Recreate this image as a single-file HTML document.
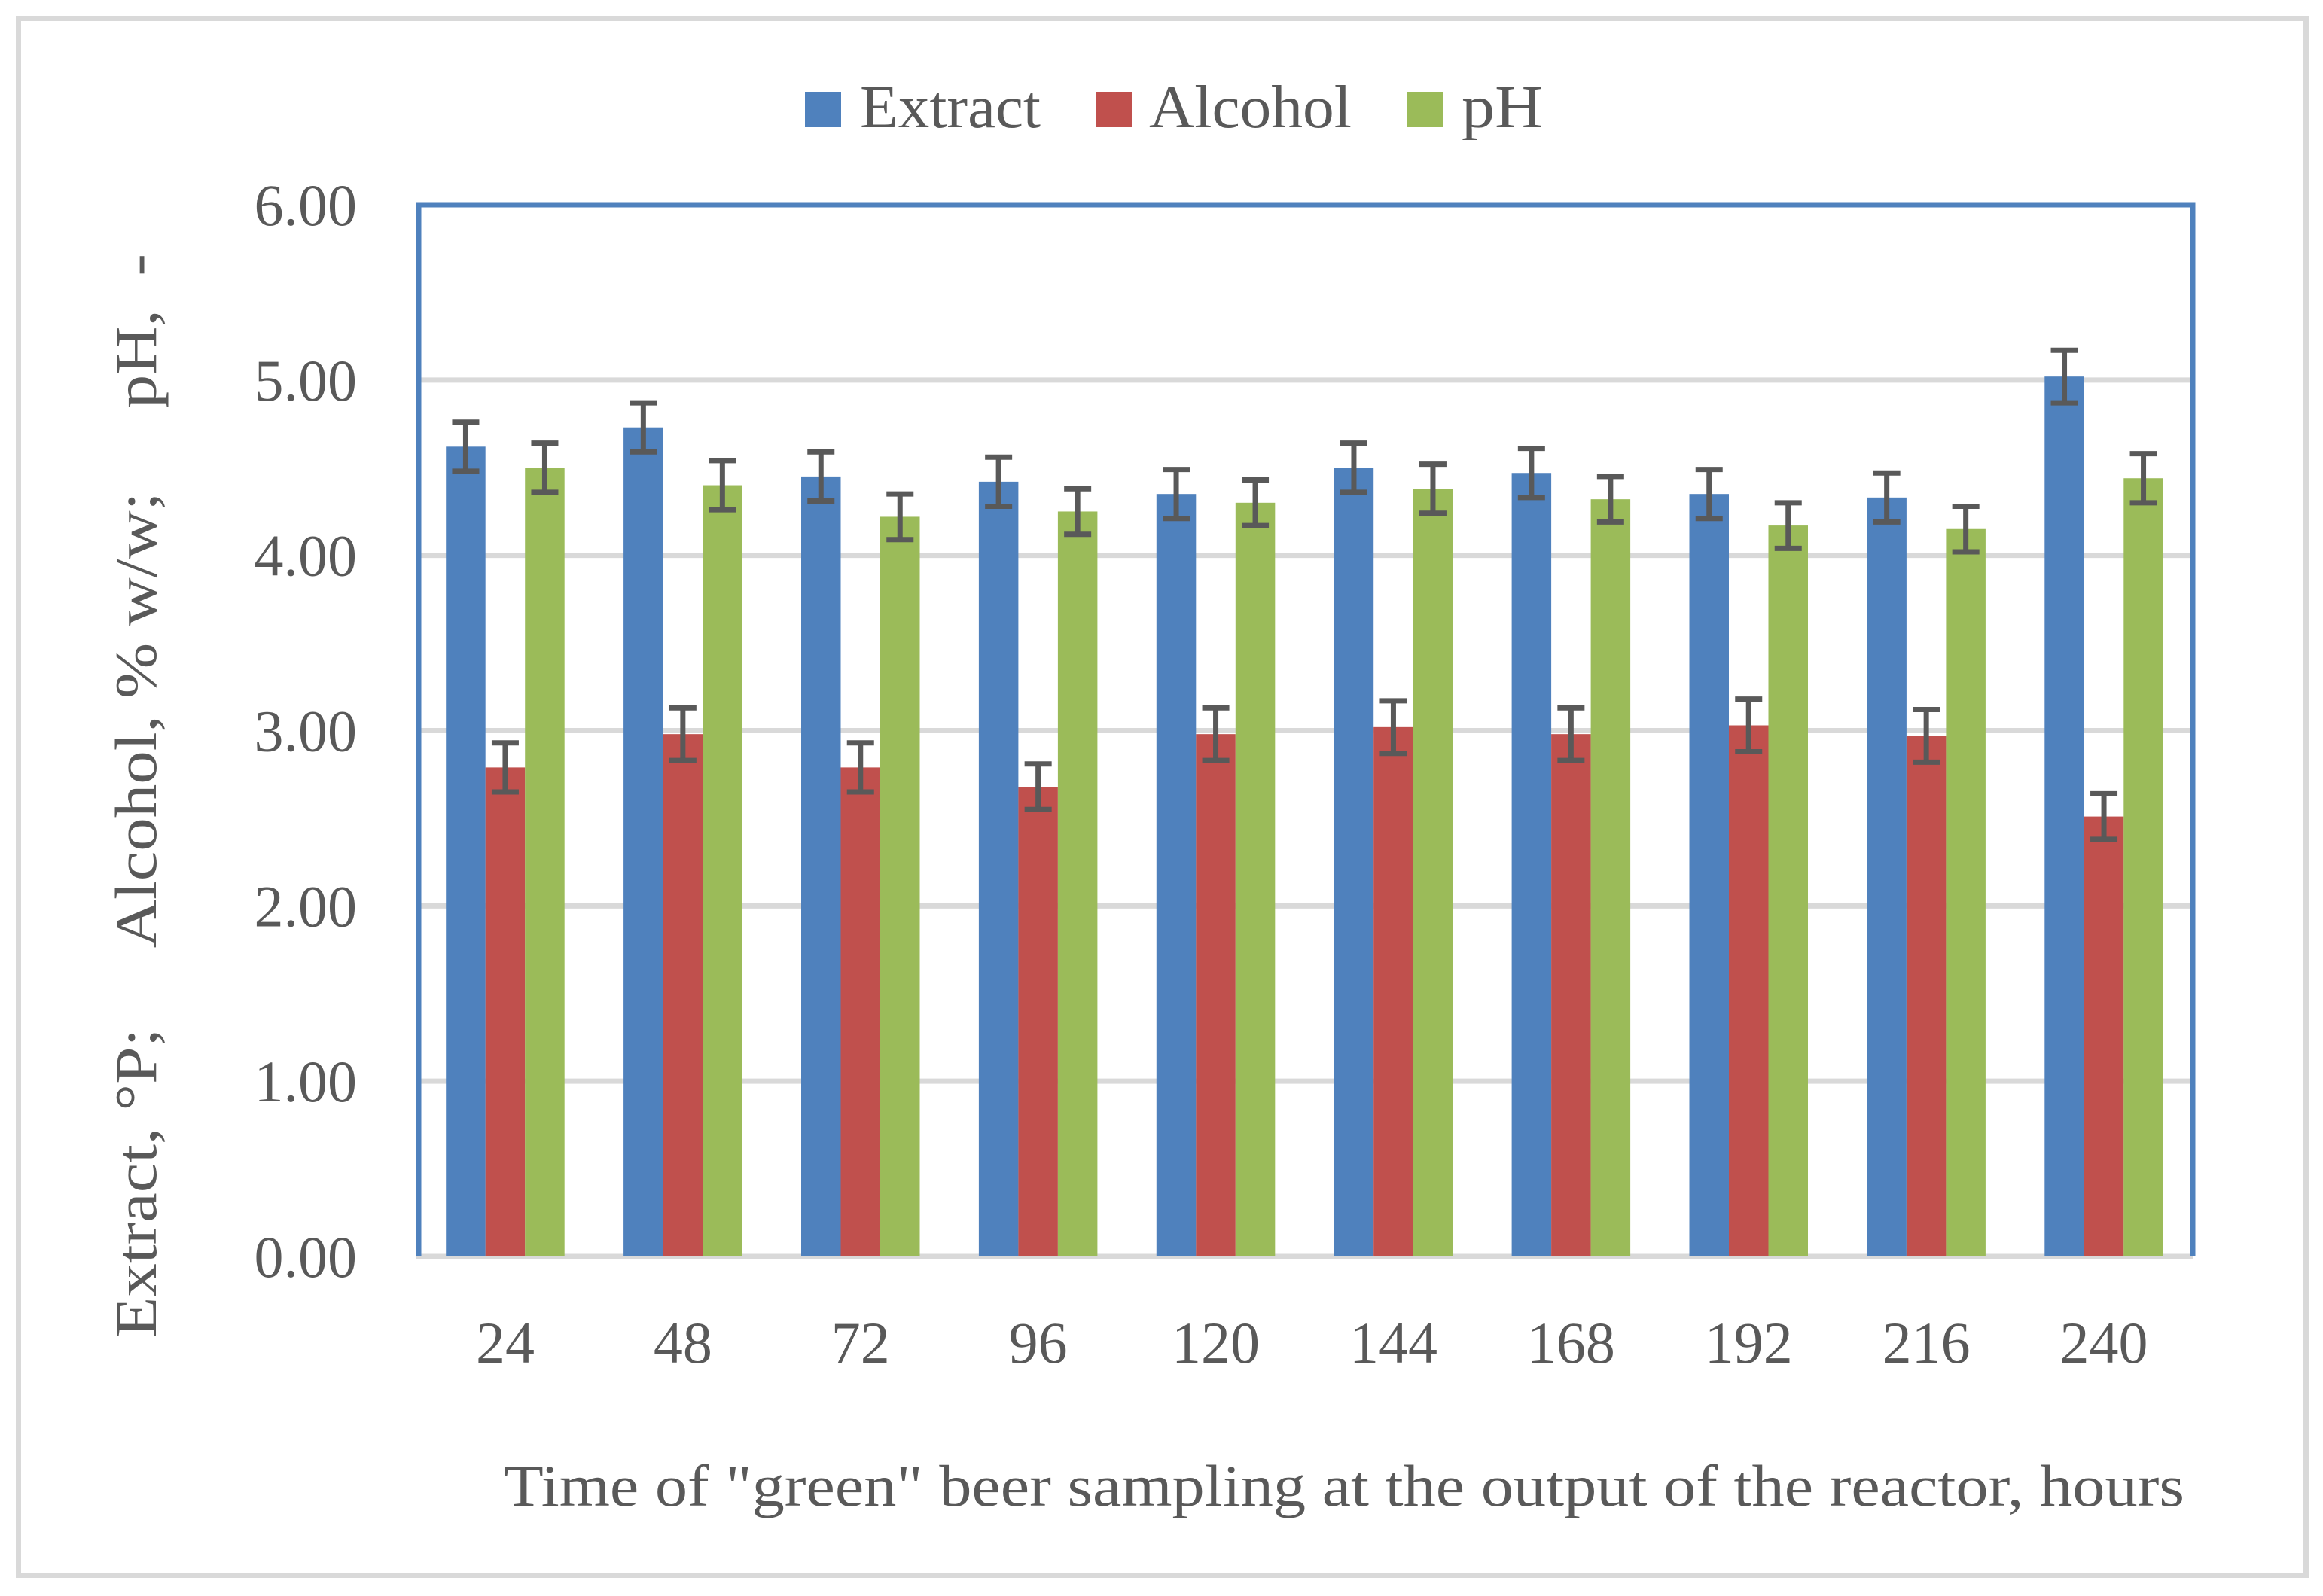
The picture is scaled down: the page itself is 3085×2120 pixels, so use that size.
<!DOCTYPE html>
<html><head><meta charset="utf-8"><style>
html,body{margin:0;padding:0;background:#fff;}
svg{display:block;}
text{font-family:"Liberation Serif",serif;fill:#595959;}
</style></head><body>
<svg id="chart" width="3085" height="2120" viewBox="0 0 3085 2120" xmlns="http://www.w3.org/2000/svg">
<rect x="24.5" y="24.5" width="3038" height="2068" fill="#fff" stroke="#d9d9d9" stroke-width="7"/>
<g id="grid"></g>
<g id="bars"></g>
<g id="errs"></g>
<g id="yticks"></g>
<g id="xticks"></g>
<path d="M556,1669 V272 H2912 V1669" fill="none" stroke="#4f81bd" stroke-width="7"/>
<g>
<g><rect x="1069" y="122" width="48" height="47" fill="#4f81bd"/><text x="1142" y="169" font-size="80" textLength="240" lengthAdjust="spacingAndGlyphs">Extract</text></g>
<g><rect x="1455" y="122" width="48" height="47" fill="#c0504d"/><text x="1526" y="169" font-size="80" textLength="269" lengthAdjust="spacingAndGlyphs">Alcohol</text></g>
<g><rect x="1869" y="122" width="48" height="47" fill="#9bbb59"/><text x="1941" y="169" font-size="80" textLength="108" lengthAdjust="spacingAndGlyphs">pH</text></g>
</g>
<text transform="translate(207,1777) rotate(-90)" font-size="78" textLength="1440" lengthAdjust="spacingAndGlyphs" xml:space="preserve">Extract, °P;     Alcohol, % w/w;     pH,  -</text>
<text x="669" y="2000" font-size="78" textLength="2232" lengthAdjust="spacingAndGlyphs">Time of "green" beer sampling at the output of the reactor, hours</text>
</svg>
<script>
const categories = ["24","48","72","96","120","144","168","192","216","240"];
const extractValues = [4.62,4.73,4.45,4.42,4.35,4.50,4.47,4.35,4.33,5.02];
const alcoholValues = [2.79,2.98,2.79,2.68,2.98,3.02,2.98,3.03,2.97,2.51];
const phValues = [4.50,4.40,4.22,4.25,4.30,4.38,4.32,4.17,4.15,4.44];
const extractErr = [0.14,0.14,0.14,0.14,0.14,0.14,0.14,0.14,0.14,0.15];
const alcoholErr = [0.14,0.15,0.14,0.13,0.15,0.15,0.15,0.15,0.15,0.13];
const phErr = [0.14,0.14,0.13,0.13,0.13,0.14,0.13,0.13,0.13,0.14];
const yTicks = ["0.00","1.00","2.00","3.00","4.00","5.00","6.00"];

const NS = "http://www.w3.org/2000/svg";
const X0 = 553, X1 = 2912, Y0 = 1669, Y6 = 272, YMAX = 6;
const catW = (X1 - X0) / categories.length;
const barW = 52.5;
function y(v){ return Y0 - (v / YMAX) * (Y0 - Y6); }
function xc(i){ return X0 + catW * (i + 0.5); }
function mk(tag, attrs, parent){ const e = document.createElementNS(NS, tag); for (const k in attrs) e.setAttribute(k, attrs[k]); parent.appendChild(e); return e; }

const grid = document.getElementById('grid');
const yt = document.getElementById('yticks');
yTicks.forEach((t, i) => {
  const v = parseFloat(t);
  if (i < yTicks.length - 1) {
    const l = mk('line', {x1: X0, x2: X1, y1: y(v), y2: y(v), stroke: '#d9d9d9', 'stroke-width': 7}, grid);
    
    
  }
  const tx = mk('text', {x: 474, y: y(v) + 27, 'font-size': 78, 'text-anchor': 'end'}, yt);
  tx.textContent = t;
  
  
});

const series = [
  {name: 'extract', vals: extractValues, err: extractErr, color: '#4f81bd'},
  {name: 'alcohol', vals: alcoholValues, err: alcoholErr, color: '#c0504d'},
  {name: 'ph', vals: phValues, err: phErr, color: '#9bbb59'}
];
const bars = document.getElementById('bars');
const errs = document.getElementById('errs');
const xt = document.getElementById('xticks');
categories.forEach((c, i) => {
  series.forEach((s, k) => {
    const cx = xc(i) + (k - 1) * barW;
    const v = s.vals[i];
    const r = mk('rect', {x: cx - barW / 2, y: y(v), width: barW, height: Y0 - y(v), fill: s.color}, bars);
    
    
    const e = s.err[i];
    const g = mk('g', {stroke: '#595959', 'stroke-width': 7, fill: 'none'}, errs);
    
    
    mk('line', {x1: cx, x2: cx, y1: y(v + e), y2: y(v - e)}, g);
    mk('line', {x1: cx - 18, x2: cx + 18, y1: y(v + e), y2: y(v + e)}, g);
    mk('line', {x1: cx - 18, x2: cx + 18, y1: y(v - e), y2: y(v - e)}, g);
  });
  const t = mk('text', {x: xc(i), y: 1810, 'font-size': 78, 'text-anchor': 'middle'}, xt);
  t.textContent = c;
  
  
});
</script>
</body></html>
